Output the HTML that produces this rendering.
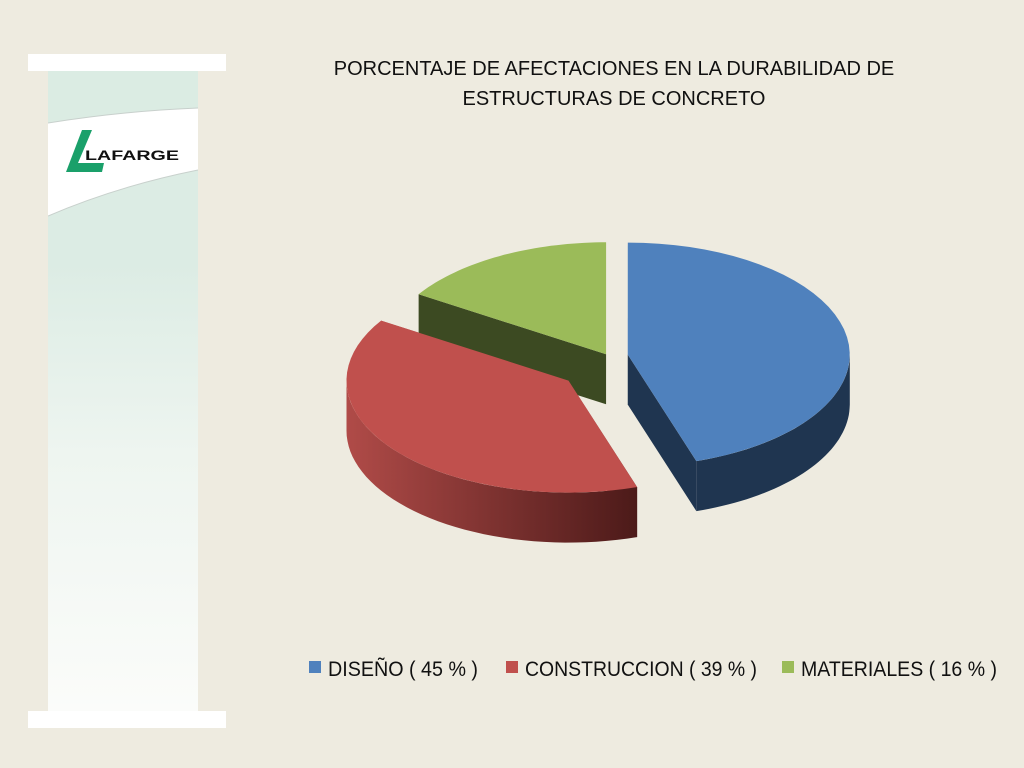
<!DOCTYPE html>
<html><head><meta charset="utf-8">
<style>
html,body{margin:0;padding:0;}
body{width:1024px;height:768px;background:#eeebe0;position:relative;overflow:hidden;font-family:"Liberation Sans",sans-serif;}
</style></head>
<body>
<div style="position:absolute;left:28px;top:54px;width:198px;height:17px;background:#fff"></div>
<div style="position:absolute;left:28px;top:711px;width:198px;height:17px;background:#fff"></div>
<div style="position:absolute;left:48px;top:71px;width:150px;height:640px;background:linear-gradient(#dbece3 0%,#dcece4 30%,#eef5f0 60%,#fbfcfa 100%)"></div>
<svg style="position:absolute;left:48px;top:71px" width="150" height="160">
<path d="M0 52 Q75 40 150 37 L150 99 Q70 115 0 145 Z" fill="#fff"/>
<path d="M0 52 Q75 40 150 37" stroke="#c8d0cc" fill="none"/>
<path d="M0 145 Q70 115 150 99" stroke="#c8d0cc" fill="none"/>
<polygon points="34,59 44,59 30,92 56,92 54,101 18,101" fill="#1aa06a"/>
<text x="37" y="89" font-size="13.5" font-weight="bold" font-family="Liberation Sans, sans-serif" fill="#111" textLength="94" lengthAdjust="spacingAndGlyphs">LAFARGE</text>
</svg>
<div style="position:absolute;left:300px;top:54px;width:628px;text-align:center;font-size:20px;line-height:30px;color:#111">PORCENTAJE DE AFECTACIONES EN LA DURABILIDAD DE<br>ESTRUCTURAS DE CONCRETO</div>
<svg id="chart" style="position:absolute;left:0;top:0" width="1024" height="768">
<defs>
<linearGradient id="redWall" x1="0" x2="1" y1="0" y2="0"><stop offset="0" stop-color="#b04b48"/><stop offset="1" stop-color="#4c1a19"/></linearGradient>
</defs>
</svg>
<script>
const labels=["DISEÑO ( 45 % )","CONSTRUCCION ( 39 % )","MATERIALES ( 16 % )"];
const values=[45,39,16];
const explode=[20,50,4];
const topColors=["#4f81bd","#c0504d","#9bbb59"];
const sideColors=["#1f3550","url(#redWall)","#3c4a22"];
const legendColors=["#4f81bd","#c0504d","#9bbb59"];

const svg=document.getElementById('chart');
const NS="http://www.w3.org/2000/svg";
const cx=608,cy=357,rx=222,ry=112,depth=50,k=0.77;
const total=values.reduce((a,b)=>a+b,0);
function pt(o,a,dz){return [o[0]+rx*Math.cos(a),o[1]+ry*Math.sin(a)+(dz||0)];}
function arcPath(o,a1,a2,dz){let s="";const n=40;for(let i=0;i<=n;i++){const a=a1+(a2-a1)*i/n;const p=pt(o,a,dz);s+=(i?"L":"")+p[0].toFixed(1)+" "+p[1].toFixed(1)+" ";}return s;}
function add(d,fill,name){const p=document.createElementNS(NS,'path');p.setAttribute('d',d);p.setAttribute('fill',fill);


svg.appendChild(p);}
let a=-Math.PI/2;const slices=[];
values.forEach((v,i)=>{const a1=a,a2=a+v/total*2*Math.PI;a=a2;const m=(a1+a2)/2;
const o=[cx+explode[i]*Math.cos(m),cy+explode[i]*Math.sin(m)*k];slices.push({a1,a2,o,i});});
slices.forEach(s=>{const o=s.o;
[s.a1,s.a2].forEach((ang,j)=>{const p=pt(o,ang);
add(`M${o[0]} ${o[1]} L${p[0]} ${p[1]} L${p[0]} ${p[1]+depth} L${o[0]} ${o[1]+depth} Z`,sideColors[s.i],'slice-cut-'+s.i+'-'+j);});
const w1=Math.max(s.a1,0),w2=Math.min(s.a2,Math.PI);
if(w2>w1){add("M"+arcPath(o,w1,w2,0)+"L"+arcPath(o,w2,w1,depth)+"Z",sideColors[s.i],'slice-wall-'+s.i);}
});
slices.forEach(s=>{const o=s.o;add(`M${o[0]} ${o[1]} L`+arcPath(o,s.a1,s.a2,0)+"Z",topColors[s.i],'slice-top-'+s.i);});
const lx=[309,506,782],tw=[150,232,196];
labels.forEach((l,i)=>{const r=document.createElementNS(NS,'rect');r.setAttribute('x',lx[i]);r.setAttribute('y',661);r.setAttribute('width',12);r.setAttribute('height',12);r.setAttribute('fill',legendColors[i]);


svg.appendChild(r);
const t=document.createElementNS(NS,'text');t.setAttribute('x',lx[i]+19);t.setAttribute('y',676);t.setAttribute('font-size','21');t.setAttribute('fill','#111');t.setAttribute('textLength',tw[i]);t.setAttribute('lengthAdjust','spacingAndGlyphs');t.textContent=l;


svg.appendChild(t);});
</script>
</body></html>
